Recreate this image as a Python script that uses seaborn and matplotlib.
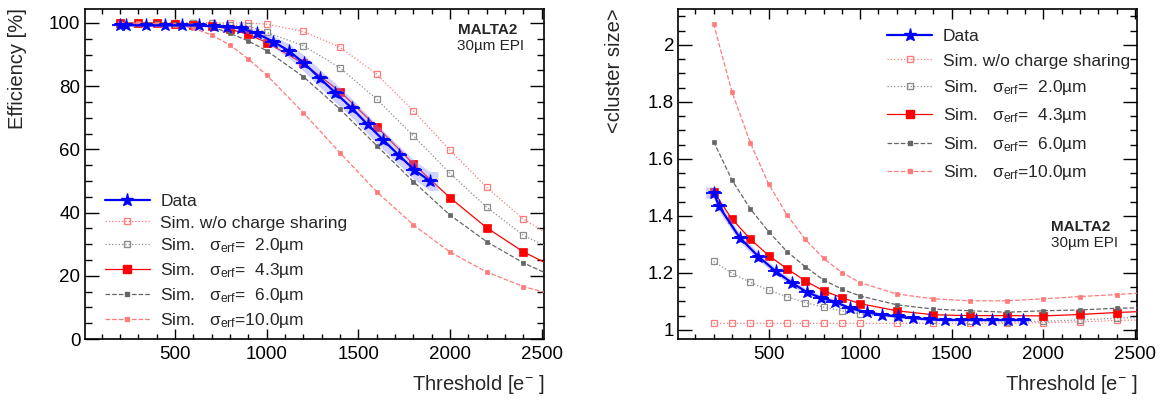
import numpy as np
import pandas as pd
import matplotlib
matplotlib.use("Agg")
import matplotlib.pyplot as plt
from matplotlib.lines import Line2D
from matplotlib.ticker import MultipleLocator
import seaborn as sns

# simulation thresholds [e-]; last point lies past the frame so curves run to the edge
sim_x = [200, 300, 400, 500, 600, 700, 800, 900, 1000, 1200, 1400, 1600, 1800, 2000, 2200, 2400, 2600]

# efficiency [%]
eff_nocs = [100, 100, 100, 100, 100, 100, 100, 100, 99.6, 97.3, 92.3, 83.8, 72.2, 59.7, 48.0, 37.9, 31.0]
eff_s20 = [100, 100, 100, 100, 100, 100, 99.4, 99.0, 97.0, 92.8, 85.8, 75.9, 64.3, 52.4, 41.7, 32.8, 27.3]
eff_s43 = [100, 100, 100, 99.6, 99.4, 99.1, 98.0, 96.4, 93.8, 87.2, 78.3, 67.2, 55.4, 44.7, 35.2, 27.6, 21.8]
eff_s60 = [100, 100, 99.9, 99.8, 99.5, 98.8, 96.7, 94.3, 91.2, 83.0, 72.7, 61.2, 49.8, 39.2, 30.8, 24.1, 18.8]
eff_s100 = [100, 99.9, 99.8, 99.5, 98.3, 96.2, 93.0, 88.6, 83.5, 71.6, 58.9, 46.6, 36.1, 27.5, 21.2, 16.6, 13.4]

# mean cluster size
cs_nocs = [1.023, 1.023, 1.023, 1.023, 1.023, 1.023, 1.023, 1.023, 1.023, 1.023, 1.023, 1.023, 1.023, 1.025, 1.028, 1.033, 1.036]
cs_s20 = [1.240, 1.199, 1.167, 1.139, 1.117, 1.096, 1.080, 1.067, 1.056, 1.045, 1.035, 1.030, 1.028, 1.030, 1.035, 1.041, 1.046]
cs_s43 = [1.485, 1.389, 1.319, 1.261, 1.215, 1.172, 1.137, 1.113, 1.092, 1.067, 1.053, 1.050, 1.050, 1.049, 1.054, 1.061, 1.066]
cs_s60 = [1.661, 1.526, 1.425, 1.345, 1.275, 1.222, 1.175, 1.143, 1.119, 1.088, 1.073, 1.067, 1.062, 1.067, 1.070, 1.076, 1.078]
cs_s100 = [2.074, 1.835, 1.657, 1.512, 1.404, 1.318, 1.251, 1.201, 1.166, 1.126, 1.109, 1.102, 1.102, 1.109, 1.117, 1.124, 1.132]

# measured data
data_x = [200, 230, 342, 445, 540, 630, 710, 785, 860, 945, 1035, 1120, 1205, 1290, 1375, 1465, 1550, 1635, 1720, 1805, 1890]
data_eff = [99.4, 99.3, 99.2, 99.2, 99.2, 99.2, 98.9, 98.7, 98.3, 96.7, 94.1, 91.2, 87.2, 82.5, 77.9, 73.0, 67.9, 63.0, 58.2, 53.5, 50.0]
data_eff_err = [0.4, 0.4, 0.4, 0.4, 0.4, 0.4, 0.4, 0.5, 0.8, 1.2, 1.8, 2.2, 2.6, 2.8, 3.0, 3.0, 3.0, 3.0, 3.0, 3.0, 3.0]
data_cs = [1.482, 1.433, 1.324, 1.257, 1.205, 1.164, 1.132, 1.113, 1.099, 1.076, 1.062, 1.053, 1.047, 1.041, 1.037, 1.035, 1.035, 1.035, 1.035, 1.035, 1.035]
data_cs_err = [0.020, 0.018, 0.015, 0.013, 0.012, 0.011, 0.010, 0.009, 0.008, 0.007, 0.006, 0.006, 0.005, 0.005, 0.005, 0.005, 0.005, 0.005, 0.005, 0.005, 0.005]
data_xerr = 44

labels = ["Data", "Sim. w/o charge sharing",
          "Sim.   σ$_{\\mathrm{erf}}$=  2.0µm",
          "Sim.   σ$_{\\mathrm{erf}}$=  4.3µm",
          "Sim.   σ$_{\\mathrm{erf}}$=  6.0µm",
          "Sim.   σ$_{\\mathrm{erf}}$=10.0µm"]

sns.set_style("ticks")
plt.rcParams['font.family'] = ['Liberation Sans', 'DejaVu Sans']
plt.rcParams['mathtext.fontset'] = 'custom'
plt.rcParams['mathtext.rm'] = 'Liberation Sans'
plt.rcParams['mathtext.it'] = 'Liberation Sans'
plt.rcParams['mathtext.bf'] = 'Liberation Sans:bold'

BLUE = "#0000ff"
RED = "#ff0000"
LRED = "#ff7b7b"
DGREY = "#666666"
GREY = "#8c8c8c"

# style per simulation: colour, linestyle, marker, size, filled
sim_styles = [
    (LRED, ":", "s", 4.0, False),
    (GREY, ":", "s", 4.0, False),
    (RED, "-", "s", 5.5, True),
    (DGREY, "--", "s", 3.2, True),
    (LRED, "--", "s", 3.2, True),
]


def draw_panel(ax, sims, dy, dyerr):
    for yv, (c, ls, mk, ms, filled) in zip(sims, sim_styles):
        df = pd.DataFrame({"x": sim_x, "y": yv})
        sns.lineplot(data=df, x="x", y="y", ax=ax, color=c, linestyle=ls, lw=0.9,
                     marker=mk, markersize=ms,
                     markerfacecolor=c if filled else "none",
                     markeredgecolor=c, markeredgewidth=0.9 if not filled else 0.5,
                     errorbar=None, zorder=3)
    dx = np.array(data_x, dtype=float)
    dyv = np.array(dy)
    de = np.array(dyerr)
    bx = np.concatenate([[dx[0] - data_xerr], dx, [dx[-1] + data_xerr]])
    by = np.concatenate([[dyv[0]], dyv, [dyv[-1]]])
    be = np.concatenate([[de[0]], de, [de[-1]]])
    ax.fill_between(bx, by - be, by + be, color="#8c8cff", alpha=0.4, lw=0, zorder=4)
    ax.errorbar(dx, dyv, xerr=data_xerr, fmt="none", ecolor=BLUE, elinewidth=1.3, zorder=5)
    sns.lineplot(x=dx, y=dyv, ax=ax, color=BLUE, lw=1.6, marker="*", markersize=9.5,
                 markeredgecolor=BLUE, errorbar=None, zorder=6)


def style_axis(ax):
    ax.set_xlim(7, 2513)
    ax.set_xticks([500, 1000, 1500, 2000, 2500])
    ax.xaxis.set_minor_locator(MultipleLocator(100))
    ax.tick_params(axis="both", which="both", direction="in", top=True, right=True,
                   colors="black", width=1.0, labelsize=13.5)
    ax.tick_params(axis="x", which="major", length=7.5, pad=5)
    ax.tick_params(axis="x", which="minor", length=3.8)
    ax.tick_params(axis="y", which="major", length=10, pad=3)
    ax.tick_params(axis="y", which="minor", length=5)
    for s in ax.spines.values():
        s.set_linewidth(1.2)
        s.set_color("black")
    ax.set_xlabel("")
    ax.set_ylabel("")


def legend_handles():
    hs = [Line2D([], [], color=BLUE, lw=1.6, marker="*", markersize=9.5)]
    for c, ls, mk, ms, filled in sim_styles:
        hs.append(Line2D([], [], color=c, linestyle=ls, lw=0.9, marker=mk, markersize=ms,
                         markerfacecolor=c if filled else "none", markeredgecolor=c))
    return hs


fig = plt.figure(figsize=(11.66, 4.01), dpi=100)
ax1 = fig.add_axes([0.0726, 0.1546, 0.394, 0.8237])
ax2 = fig.add_axes([0.5817, 0.1546, 0.3937, 0.8237])

draw_panel(ax1, [eff_nocs, eff_s20, eff_s43, eff_s60, eff_s100], data_eff, data_eff_err)
style_axis(ax1)
ax1.set_ylim(0, 104.5)
ax1.yaxis.set_major_locator(MultipleLocator(20))
ax1.yaxis.set_minor_locator(MultipleLocator(5))
ax1.legend(legend_handles(), labels, loc="upper left", bbox_to_anchor=(0.044, 0.438),
           frameon=False, fontsize=12.5, handlelength=2.6, handletextpad=0.6,
           borderpad=0, borderaxespad=0, labelspacing=0.34)
ax1.text(0.812, 0.935, "MALTA2", transform=ax1.transAxes, fontsize=11, fontweight="bold",
         ha="left", va="center")
ax1.text(0.811, 0.888, "30µm EPI", transform=ax1.transAxes, fontsize=11, ha="left", va="center")

draw_panel(ax2, [cs_nocs, cs_s20, cs_s43, cs_s60, cs_s100], data_cs, data_cs_err)
style_axis(ax2)
ax2.set_ylim(0.968, 2.127)
ax2.set_yticks([1, 1.2, 1.4, 1.6, 1.8, 2])
ax2.set_yticklabels(["1", "1.2", "1.4", "1.6", "1.8", "2"])
ax2.yaxis.set_minor_locator(MultipleLocator(0.05))
ax2.legend(legend_handles(), labels, loc="upper left", bbox_to_anchor=(0.455, 0.939),
           frameon=False, fontsize=12.5, handlelength=2.6, handletextpad=0.6,
           borderpad=0, borderaxespad=0, labelspacing=0.54)
ax2.text(0.8125, 0.340, "MALTA2", transform=ax2.transAxes, fontsize=11, fontweight="bold",
         ha="left", va="center")
ax2.text(0.8125, 0.292, "30µm EPI", transform=ax2.transAxes, fontsize=11, ha="left", va="center")

# axis titles, ROOT style: aligned to the end of the axes
fig.text(18 / 1166, 1 - 8 / 401, "Efficiency [%]", rotation=90, ha="center", va="top", fontsize=14.5)
fig.text(615 / 1166, 1 - 8 / 401, "<cluster size>", rotation=90, ha="center", va="top", fontsize=14.5)
fig.text(545 / 1166, 1 - 385 / 401, "Threshold [e$^{-}$ ]", ha="right", va="center", fontsize=14.5)
fig.text(1138 / 1166, 1 - 385 / 401, "Threshold [e$^{-}$ ]", ha="right", va="center", fontsize=14.5)

fig.savefig("out.png", dpi=100, facecolor="white")
